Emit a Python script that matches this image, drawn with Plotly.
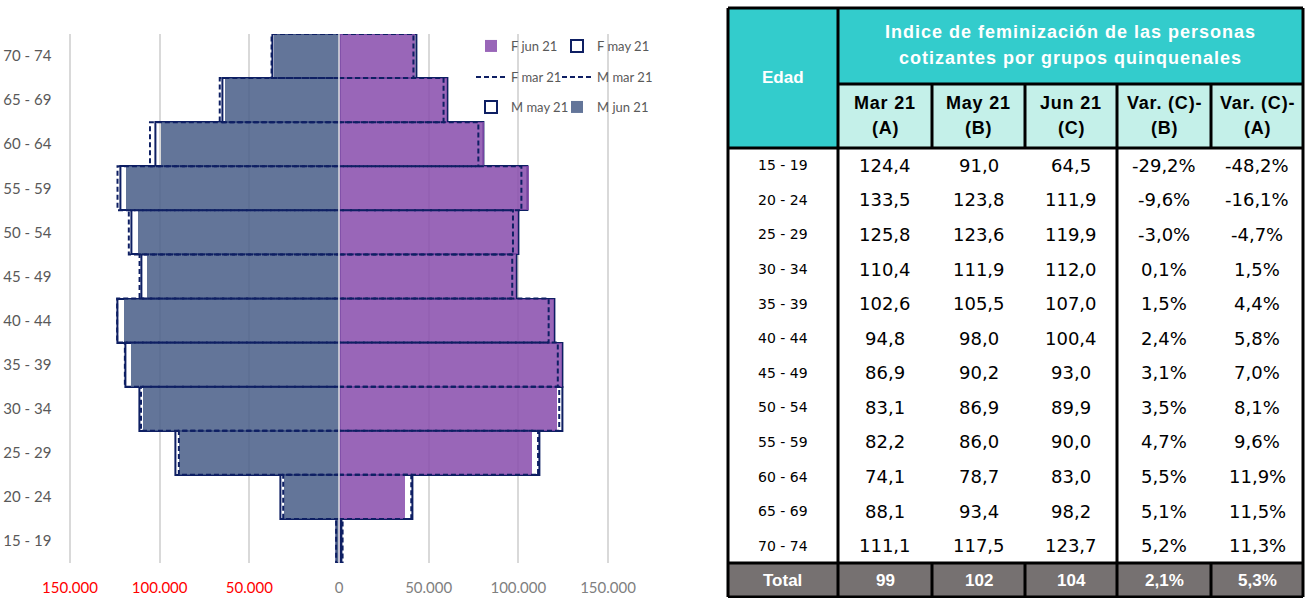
import plotly.graph_objects as go

# ---------------- data ----------------
ages = ["15 - 19", "20 - 24", "25 - 29", "30 - 34", "35 - 39", "40 - 44",
        "45 - 49", "50 - 54", "55 - 59", "60 - 64", "65 - 69", "70 - 74"]

m_jun = [1400, 30500, 88800, 108800, 115500, 119700, 106900, 112100, 118600, 99000, 63100, 36300]
m_may = [1650, 32400, 91000, 111200, 119000, 123300, 110200, 115500, 122000, 102600, 65000, 37300]
m_mar = [1600, 31100, 89300, 110400, 119400, 123700, 111200, 117200, 123500, 105400, 66500, 37600]

f_jun = [900, 37200, 107600, 122000, 124800, 120100, 98900, 100200, 106300, 81000, 60200, 42700]
f_may = [1500, 40900, 111900, 124400, 124400, 120100, 98900, 100200, 104800, 80300, 60200, 43000]
f_mar = [2000, 40300, 111000, 122800, 122000, 116900, 96600, 97000, 101700, 77700, 58300, 41500]

x_tick_vals = [-150000, -100000, -50000, 0, 50000, 100000, 150000]
x_tick_text = ["150.000", "100.000", "50.000", "0", "50.000", "100.000", "150.000"]

# table data
idx_mar = [124.4, 133.5, 125.8, 110.4, 102.6, 94.8, 86.9, 83.1, 82.2, 74.1, 88.1, 111.1]
idx_may = [91.0, 123.8, 123.6, 111.9, 105.5, 98.0, 90.2, 86.9, 86.0, 78.7, 93.4, 117.5]
idx_jun = [64.5, 111.9, 119.9, 112.0, 107.0, 100.4, 93.0, 89.9, 90.0, 83.0, 98.2, 123.7]
var_cb = [-29.2, -9.6, -3.0, 0.1, 1.5, 2.4, 3.1, 3.5, 4.7, 5.5, 5.1, 5.2]
var_ca = [-48.2, -16.1, -4.7, 1.5, 4.4, 5.8, 7.0, 8.1, 9.6, 11.9, 11.5, 11.3]
total_row = ["Total", "99", "102", "104", "2,1%", "5,3%"]
sub_headers = [("Mar 21", "(A)"), ("May 21", "(B)"), ("Jun 21", "(C)"),
               ("Var. (C)-", "(B)"), ("Var. (C)-", "(A)")]
title_lines = ["Indice de feminización de las personas", "cotizantes por grupos quinquenales"]

# ---------------- styling ----------------
W, H = 1307, 598
NAVY = "#0E1F63"
M_FILL = "rgba(72,93,135,0.85)"
F_FILL = "rgba(135,75,171,0.85)"
TEAL = "#33CCCC"
MINT = "#C4F0E9"
GREY = "#767171"


def px(x):
    return x / W


def py(y):
    return 1 - y / H


y_idx = list(range(len(ages)))


def outline_path(vals, sign):
    xs, ys = [], []
    for i, v in zip(y_idx, vals):
        xs += [0, sign * v, sign * v, 0, None]
        ys += [i - 0.5, i - 0.5, i + 0.5, i + 0.5, None]
    return xs, ys


fig = go.Figure()

# dashed March outlines
xs, ys = outline_path(m_mar, -1)
fig.add_trace(go.Scatter(x=xs, y=ys, mode="lines", name="M mar 21",
                         line=dict(color=NAVY, width=2, dash="5px,3px"),
                         legend="legend4", hoverinfo="skip"))
xs, ys = outline_path(f_mar, 1)
fig.add_trace(go.Scatter(x=xs, y=ys, mode="lines", name="F mar 21",
                         line=dict(color=NAVY, width=2, dash="5px,3px"),
                         legend="legend3", hoverinfo="skip"))

# May outlines
fig.add_trace(go.Bar(x=[-v for v in m_may], y=y_idx, orientation="h", width=1,
                     name="M may 21", marker=dict(color="rgba(255,255,255,0)",
                                                  line=dict(color=NAVY, width=2)),
                     legend="legend5"))
fig.add_trace(go.Bar(x=f_may, y=y_idx, orientation="h", width=1,
                     name="F may 21", marker=dict(color="rgba(255,255,255,0)",
                                                  line=dict(color=NAVY, width=2)),
                     legend="legend2"))

# June filled bars
fig.add_trace(go.Bar(x=[-v for v in m_jun], y=y_idx, orientation="h", width=1,
                     name="M jun 21", marker=dict(color=M_FILL, line=dict(width=0)),
                     legend="legend6"))
fig.add_trace(go.Bar(x=f_jun, y=y_idx, orientation="h", width=1,
                     name="F jun 21", marker=dict(color=F_FILL, line=dict(width=0)),
                     legend="legend7"))

tick_text_colored = []
for v, t in zip(x_tick_vals, x_tick_text):
    col = "#FF0000" if v < 0 else "#7F7F7F"
    tick_text_colored.append(f'<span style="color:{col}">{t}</span>')

legend_common = dict(orientation="h", xanchor="left", yanchor="middle",
                     bgcolor="rgba(0,0,0,0)",
                     font=dict(family="Lato", size=13, color="#595959"),
                     itemclick=False, itemdoubleclick=False)

LX1, LX2 = 471, 557
LY = [46, 77, 107]

fig.update_layout(
    width=W, height=H,
    margin=dict(l=0, r=0, t=0, b=0),
    paper_bgcolor="white", plot_bgcolor="white",
    barmode="overlay", bargap=0,
    showlegend=True,
    xaxis=dict(domain=[px(66.4), px(611.6)], range=[-152000, 152000],
               tickvals=x_tick_vals, ticktext=tick_text_colored,
               showgrid=True, gridcolor="#D9D9D9", gridwidth=1.5,
               zeroline=False, showline=False, ticks="",
               tickfont=dict(family="Lato", size=15, color="#7F7F7F"),
               ticklabelstandoff=14, automargin=False, fixedrange=True),
    yaxis=dict(domain=[py(563), py(34)], range=[-0.5, 11.5],
               tickvals=y_idx, ticktext=ages, showgrid=False,
               zeroline=False, showline=False, ticks="",
               tickfont=dict(family="Lato", size=15, color="#595959"),
               ticklabelstandoff=14, automargin=False, fixedrange=True),
    legend7=dict(x=px(LX1), y=py(LY[0]), **legend_common),
    legend2=dict(x=px(LX2), y=py(LY[0]), **legend_common),
    legend3=dict(x=px(LX1), y=py(LY[1]), **legend_common),
    legend4=dict(x=px(LX2), y=py(LY[1]), **legend_common),
    legend5=dict(x=px(LX1), y=py(LY[2]), **legend_common),
    legend6=dict(x=px(LX2), y=py(LY[2]), **legend_common),
)

# zero line above bars
fig.add_shape(type="line", xref="x", yref="y", x0=0, x1=0, y0=-0.5, y1=11.5,
              line=dict(color="#E6E6E6", width=1.5), layer="above")

# ---------------- table ----------------
cols = [728, 838, 932, 1025, 1117, 1211, 1303]
T_TOP, T_TITLE, T_SUB, T_BODY, T_BOT = 8, 84, 148, 563, 597


def rect(x0, y0, x1, y1, color):
    fig.add_shape(type="rect", xref="paper", yref="paper",
                  x0=px(x0), x1=px(x1), y0=py(y1), y1=py(y0),
                  fillcolor=color, line=dict(width=0), layer="below")


def hline(x0, x1, y, w=3):
    fig.add_shape(type="line", xref="paper", yref="paper",
                  x0=px(x0), x1=px(x1), y0=py(y), y1=py(y),
                  line=dict(color="black", width=w))


def vline(x, y0, y1, w=3):
    fig.add_shape(type="line", xref="paper", yref="paper",
                  x0=px(x), x1=px(x), y0=py(y0), y1=py(y1),
                  line=dict(color="black", width=w))


def text(x, y, s, size, color="black", family="DejaVu Sans", bold=False, spacing=None):
    if spacing:
        s = f'<span style="letter-spacing:{spacing}px">{s}</span>'
    if bold:
        s = f"<b>{s}</b>"
    fig.add_annotation(x=px(x), y=py(y), xref="paper", yref="paper", text=s,
                       showarrow=False, xanchor="center", yanchor="middle",
                       font=dict(family=family, size=size, color=color))


rect(cols[0], T_TOP, cols[1], T_SUB, TEAL)
rect(cols[1], T_TOP, cols[-1], T_TITLE, TEAL)
rect(cols[1], T_TITLE, cols[-1], T_SUB, MINT)
rect(cols[0], T_BODY, cols[-1], T_BOT, GREY)

hline(cols[0], cols[-1], T_TOP)
hline(cols[1], cols[-1], T_TITLE)
hline(cols[0], cols[-1], T_SUB)
hline(cols[0], cols[-1], T_BODY)
hline(cols[0], cols[-1], T_BOT)
vline(cols[0], T_TOP, T_BOT)
vline(cols[-1], T_TOP, T_BOT)
vline(cols[1], T_TOP, T_BOT)
vline(cols[4], T_TITLE, T_BOT)
for c in (cols[2], cols[3], cols[5]):
    vline(c, T_TITLE, T_SUB)
    vline(c, T_BODY, T_BOT)

HF = "Liberation Sans"
text((cols[0] + cols[1]) / 2, 77, "Edad", 17, "white", HF, True)
text((cols[1] + cols[-1]) / 2, 32, title_lines[0], 18, "white", HF, True, 1)
text((cols[1] + cols[-1]) / 2, 58, title_lines[1], 18, "white", HF, True, 1)
for j, (l1, l2) in enumerate(sub_headers):
    cx = (cols[j + 1] + cols[j + 2]) / 2
    text(cx, 103, l1, 18, "black", HF, True, 0.8)
    text(cx, 128, l2, 18, "black", HF, True, 0.8)

row_h = (T_BODY - T_SUB) / len(ages)


def fmt_num(v):
    return f"{v:.1f}".replace(".", ",")


def fmt_pct(v):
    return f"{v:.1f}%".replace(".", ",")


for k, age in enumerate(ages):
    cy = T_SUB + row_h * (k + 0.5)
    text((cols[0] + cols[1]) / 2, cy, age, 14)
    vals = [fmt_num(idx_mar[k]), fmt_num(idx_may[k]), fmt_num(idx_jun[k]),
            fmt_pct(var_cb[k]), fmt_pct(var_ca[k])]
    for j, s in enumerate(vals):
        text((cols[j + 1] + cols[j + 2]) / 2, cy, s, 18)

for j, s in enumerate(total_row):
    text((cols[j] + cols[j + 1]) / 2, (T_BODY + T_BOT) / 2, s, 17, "white", HF, True)

fig.write_html("out.html", post_script="document.body.style.margin='0';",
               config={"displayModeBar": False})
